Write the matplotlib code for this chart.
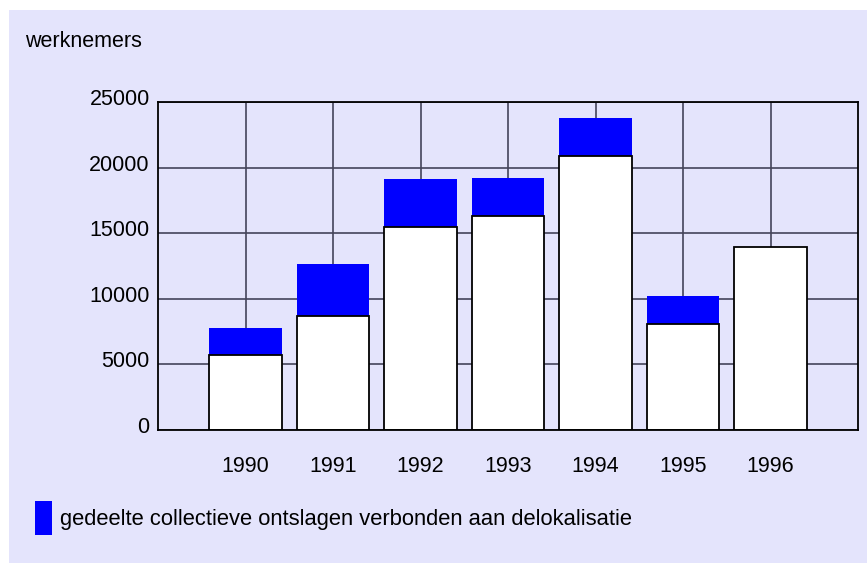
import matplotlib
matplotlib.use("Agg")
import matplotlib.pyplot as plt
from matplotlib.patches import Rectangle
from matplotlib.transforms import ScaledTranslation

plt.rcParams['font.family'] = ['Liberation Sans', 'DejaVu Sans']

years = ['1990', '1991', '1992', '1993', '1994', '1995', '1996']
base_values = [5750, 8700, 15500, 16300, 20850, 8100, 13950]
deloc_values = [2050, 3950, 3600, 2880, 2950, 2100, 0]
y_ticks = [0, 5000, 10000, 15000, 20000, 25000]
y_label = 'werknemers'
legend_label = 'gedeelte collectieve ontslagen verbonden aan delokalisatie'

W, H = 867, 563
bg = '#e4e4fc'
fig = plt.figure(figsize=(W / 100, H / 100), dpi=100)
fig.patch.set_facecolor('white')
fig.patches.append(Rectangle((9 / W, 0), 1 - 9 / W, 1 - 10 / H, transform=fig.transFigure,
                             facecolor=bg, edgecolor='none', zorder=-10))

ax = fig.add_axes([158 / W, (H - 430) / H, 700 / W, 328 / H])
ax.set_zorder(2)
ax.set_facecolor(bg)

x = list(range(1, len(years) + 1))
width = 0.834
ax.bar(x, deloc_values, width=width, bottom=base_values, color='#0000ff',
       edgecolor='none', zorder=3)
ax.bar(x, base_values, width=width, color='white', edgecolor='black',
       linewidth=1.3, zorder=4)

ax.set_xlim(0, 8)
ax.set_ylim(0, 25000)
ax.set_xticks(x)
ax.set_xticklabels(years)
ax.set_yticks(y_ticks)
ax.set_yticklabels([str(v) for v in y_ticks])
ax.tick_params(axis='both', length=0, labelsize=15.5, colors='black')
ax.tick_params(axis='x', pad=19)
ax.tick_params(axis='y', pad=6)
offset = ScaledTranslation(0, 5 / 100, fig.dpi_scale_trans)
for lbl in ax.get_yticklabels():
    lbl.set_transform(lbl.get_transform() + offset)
ax.grid(True, color='#44445a', linewidth=1.2, zorder=1)
ax.set_axisbelow(True)
for s in ax.spines.values():
    s.set_color('black')
    s.set_linewidth(1.3)
    s.set_zorder(5)

fig.text(25 / W, 1 - 47 / H, y_label, fontsize=15.5, va='baseline', ha='left', zorder=3)

fig.patches.append(Rectangle((35 / W, 1 - 535 / H), 17 / W, 34 / H, transform=fig.transFigure,
                             facecolor='#0000ff', edgecolor='none', zorder=2))
fig.text(60 / W, 1 - 525 / H, legend_label, fontsize=15.8, va='baseline', ha='left', zorder=3)

fig.savefig('out.png', dpi=100, facecolor=fig.get_facecolor())
